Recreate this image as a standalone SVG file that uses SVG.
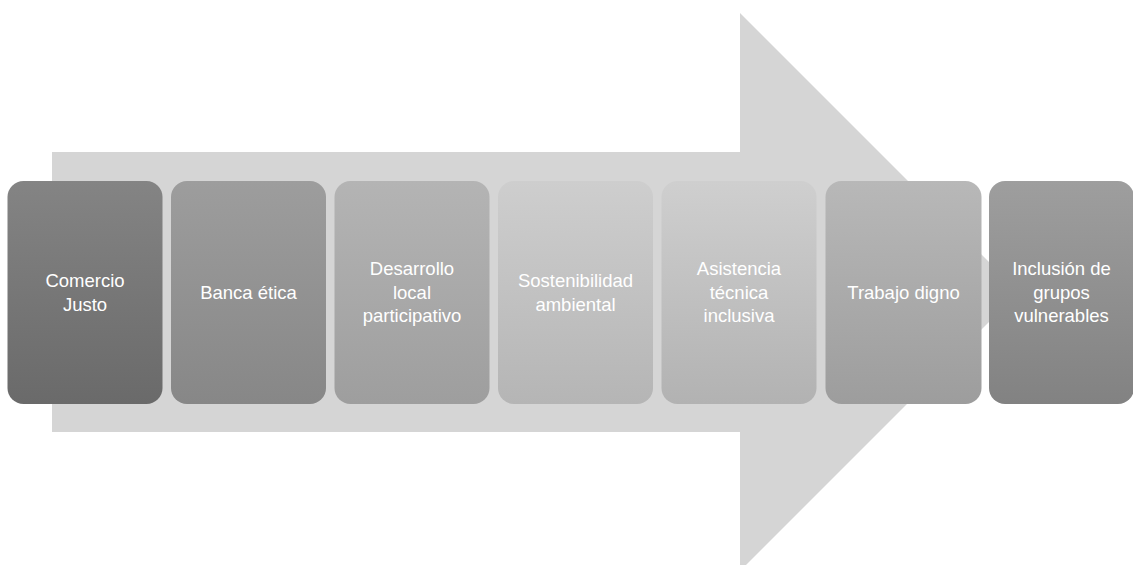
<svg xmlns="http://www.w3.org/2000/svg" width="1133" height="565" viewBox="0 0 1133 565">
<style>
.box{stroke:none}
.lbl{font-family:"Liberation Sans",Arial,sans-serif;font-size:18.5px;fill:#ffffff;text-anchor:middle}
</style>
<defs>
<linearGradient id="g1" x1="0" y1="0" x2="0" y2="1"><stop offset="0" stop-color="#848484"/><stop offset="1" stop-color="#6a6a6a"/></linearGradient>
<linearGradient id="g2" x1="0" y1="0" x2="0" y2="1"><stop offset="0" stop-color="#9d9d9d"/><stop offset="1" stop-color="#878787"/></linearGradient>
<linearGradient id="g3" x1="0" y1="0" x2="0" y2="1"><stop offset="0" stop-color="#b4b4b4"/><stop offset="1" stop-color="#9e9e9e"/></linearGradient>
<linearGradient id="g4" x1="0" y1="0" x2="0" y2="1"><stop offset="0" stop-color="#cecece"/><stop offset="1" stop-color="#b5b5b5"/></linearGradient>
<linearGradient id="g5" x1="0" y1="0" x2="0" y2="1"><stop offset="0" stop-color="#cfcfcf"/><stop offset="1" stop-color="#b2b2b2"/></linearGradient>
<linearGradient id="g6" x1="0" y1="0" x2="0" y2="1"><stop offset="0" stop-color="#b8b8b8"/><stop offset="1" stop-color="#9d9d9d"/></linearGradient>
<linearGradient id="g7" x1="0" y1="0" x2="0" y2="1"><stop offset="0" stop-color="#9e9e9e"/><stop offset="1" stop-color="#828282"/></linearGradient>
</defs>
<g id="arrow">
<polygon points="52,152 740,152 740,13 1019,292 740,571 740,432 52,432" fill="#d5d5d5"/>
</g>
<g id="connectors"></g>
<g id="n1">
<rect class="box" x="7.5" y="181" width="155" height="223" rx="16" fill="url(#g1)"/>
<text class="lbl" x="85" y="287">Comercio</text>
<text class="lbl" x="85" y="310.5">Justo</text>
</g>
<g id="n2">
<rect class="box" x="171" y="181" width="155" height="223" rx="16" fill="url(#g2)"/>
<text class="lbl" x="248.5" y="299">Banca ética</text>
</g>
<g id="n3">
<rect class="box" x="334.5" y="181" width="155" height="223" rx="16" fill="url(#g3)"/>
<text class="lbl" x="412" y="275">Desarrollo</text>
<text class="lbl" x="412" y="298.5">local</text>
<text class="lbl" x="412" y="322">participativo</text>
</g>
<g id="n4">
<rect class="box" x="498" y="181" width="155" height="223" rx="16" fill="url(#g4)"/>
<text class="lbl" x="575.5" y="287">Sostenibilidad</text>
<text class="lbl" x="575.5" y="310.5">ambiental</text>
</g>
<g id="n5">
<rect class="box" x="661.5" y="181" width="155" height="223" rx="16" fill="url(#g5)"/>
<text class="lbl" x="739" y="275">Asistencia</text>
<text class="lbl" x="739" y="298.5">técnica</text>
<text class="lbl" x="739" y="322">inclusiva</text>
</g>
<g id="n6">
<rect class="box" x="825.5" y="181" width="156" height="223" rx="16" fill="url(#g6)"/>
<text class="lbl" x="903.5" y="299">Trabajo digno</text>
</g>
<g id="n7">
<rect class="box" x="989" y="181" width="145" height="223" rx="16" fill="url(#g7)"/>
<text class="lbl" x="1061.5" y="275">Inclusión de</text>
<text class="lbl" x="1061.5" y="298.5">grupos</text>
<text class="lbl" x="1061.5" y="322">vulnerables</text>
</g>
</svg>
